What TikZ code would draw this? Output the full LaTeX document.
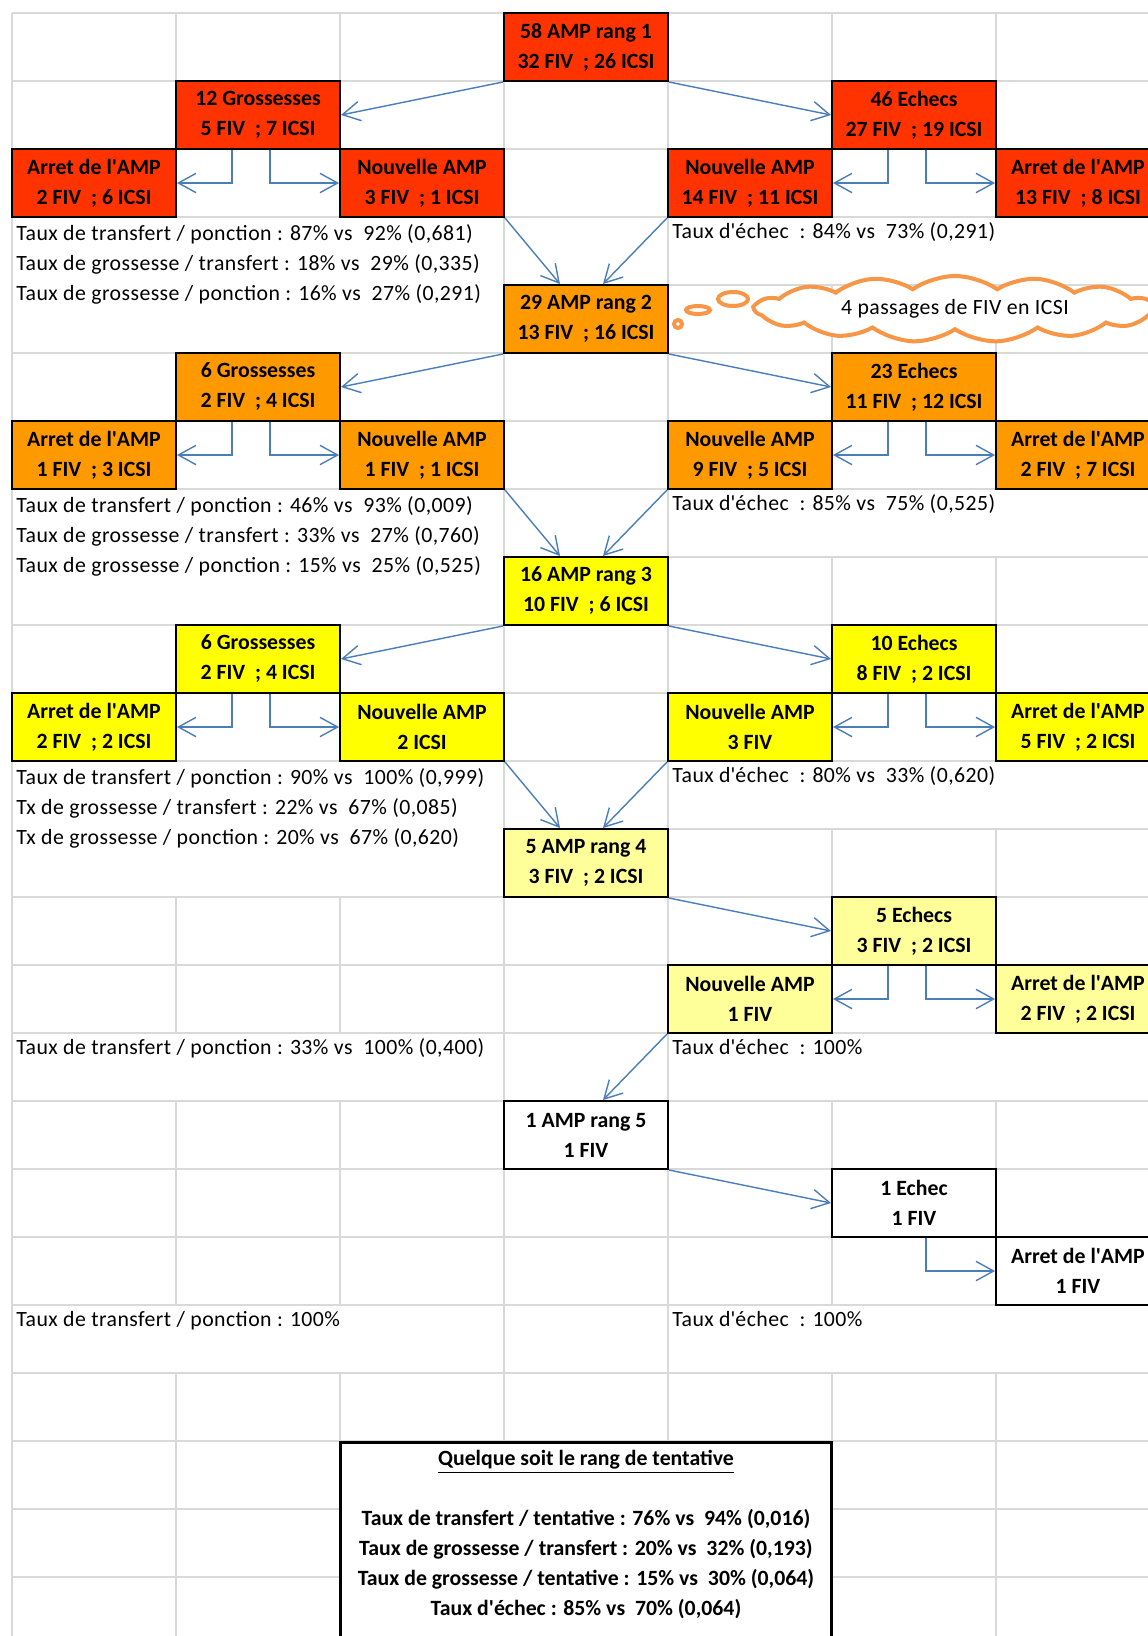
\documentclass[tikz,border=0pt]{standalone}
\usepackage{fontspec}
\setmainfont{Carlito}
\newfontfamily\tauxfont[LetterSpace=2]{Carlito}
\usetikzlibrary{arrows.meta}
\usetikzlibrary{calc}
\usetikzlibrary{shapes.symbols}
\definecolor{rouge}{HTML}{FF3300}
\definecolor{orangeamp}{HTML}{FF9900}
\definecolor{jaune}{HTML}{FFFF00}
\definecolor{jaunepale}{HTML}{FFFF99}
\definecolor{bleu}{HTML}{4A7EBB}
\definecolor{gris}{HTML}{D9D9D9}
\definecolor{nuageor}{HTML}{F79646}
\newcommand\taille{\fontsize{12.4pt}{17.07pt}\selectfont}
\newcommand\apos{\textquotesingle}

\begin{document}
\begin{tikzpicture}[x=0.02cm,y=-0.02cm,
   grille/.style={draw=gris,line width=0.025cm},
   boite/.style={draw=black,line width=0.04cm,minimum width=3.28cm,minimum height=1.36cm,
     inner sep=0pt,align=center,font=\taille\bfseries},
   fleche/.style={draw=bleu,line width=0.8pt,-{Straight Barb[length=10pt,width=11pt]}},
   tauxg/.style={anchor=north west,inner sep=0pt,align=left,font=\taille\tauxfont},
   tauxd/.style={anchor=base west,inner sep=0pt,font=\taille\tauxfont},
   bulle/.style={draw=nuageor,line width=0.08cm,fill=white}]
\useasboundingbox (0,0) rectangle (1148,1636);
\clip (0,0) rectangle (1148,1636);
\fill[white] (0,0) rectangle (1148,1636);
\foreach \i in {0,...,7} \draw[grille] (12+164*\i,13) -- (12+164*\i,1640);
\foreach \j in {0,...,23} \draw[grille] (12,13+68*\j) -- (1160,13+68*\j);
\foreach \t in {217,489,761} \fill[white] (13,\t+1) rectangle (503,\t+135);
\foreach \t in {1033,1305} \fill[white] (13,\t+1) rectangle (503,\t+67);
\foreach \t in {217,489,761,1033,1305} \fill[white] (669,\t+1) rectangle (1160,\t+67);

\node[boite,fill=rouge] (rang1) at (586,47) {58 AMP rang 1\\32 FIV~ ; 26 ICSI};
\node[boite,fill=rouge] (gross1) at (258,115) {12 Grossesses\\5 FIV~ ; 7 ICSI};
\node[boite,fill=rouge] (echec1) at (914,115) {46 Echecs\\27 FIV~ ; 19 ICSI};
\node[boite,fill=rouge] (arretg1) at (94,183) {Arret de l\apos AMP\\2 FIV~ ; 6 ICSI};
\node[boite,fill=rouge] (nouvg1) at (422,183) {Nouvelle AMP\\3 FIV~ ; 1 ICSI};
\node[boite,fill=rouge] (nouvd1) at (750,183) {Nouvelle AMP\\14 FIV~ ; 11 ICSI};
\node[boite,fill=rouge] (arretd1) at (1078,183) {Arret de l\apos AMP\\13 FIV~ ; 8 ICSI};
\node[tauxg] (tauxg1) at (16,224) {Taux de transfert / ponction : 87\% vs~ 92\% (0,681)\\
   Taux de grossesse / transfert : 18\% vs~ 29\% (0,335)\\
   Taux de grossesse / ponction : 16\% vs~ 27\% (0,291)};
\node[tauxd] (tauxd1) at (672,238) {Taux d\apos échec~ : 84\% vs~ 73\% (0,291)};

\node[boite,fill=orangeamp] (rang2) at (586,319) {29 AMP rang 2\\13 FIV~ ; 16 ICSI};
\node[boite,fill=orangeamp] (gross2) at (258,387) {6 Grossesses\\2 FIV~ ; 4 ICSI};
\node[boite,fill=orangeamp] (echec2) at (914,387) {23 Echecs\\11 FIV~ ; 12 ICSI};
\node[boite,fill=orangeamp] (arretg2) at (94,455) {Arret de l\apos AMP\\1 FIV~ ; 3 ICSI};
\node[boite,fill=orangeamp] (nouvg2) at (422,455) {Nouvelle AMP\\1 FIV~ ; 1 ICSI};
\node[boite,fill=orangeamp] (nouvd2) at (750,455) {Nouvelle AMP\\9 FIV~ ; 5 ICSI};
\node[boite,fill=orangeamp] (arretd2) at (1078,455) {Arret de l\apos AMP\\2 FIV~ ; 7 ICSI};
\node[tauxg] (tauxg2) at (16,496) {Taux de transfert / ponction : 46\% vs~ 93\% (0,009)\\
   Taux de grossesse / transfert : 33\% vs~ 27\% (0,760)\\
   Taux de grossesse / ponction : 15\% vs~ 25\% (0,525)};
\node[tauxd] (tauxd2) at (672,510) {Taux d\apos échec~ : 85\% vs~ 75\% (0,525)};

\node[boite,fill=jaune] (rang3) at (586,591) {16 AMP rang 3\\10 FIV~ ; 6 ICSI};
\node[boite,fill=jaune] (gross3) at (258,659) {6 Grossesses\\2 FIV~ ; 4 ICSI};
\node[boite,fill=jaune] (echec3) at (914,659) {10 Echecs\\8 FIV~ ; 2 ICSI};
\node[boite,fill=jaune] (arretg3) at (94,727) {Arret de l\apos AMP\\2 FIV~ ; 2 ICSI};
\node[boite,fill=jaune] (nouvg3) at (422,727) {Nouvelle AMP\\2 ICSI};
\node[boite,fill=jaune] (nouvd3) at (750,727) {Nouvelle AMP\\3 FIV};
\node[boite,fill=jaune] (arretd3) at (1078,727) {Arret de l\apos AMP\\5 FIV~ ; 2 ICSI};
\node[tauxg] (tauxg3) at (16,768) {Taux de transfert / ponction : 90\% vs~ 100\% (0,999)\\
   Tx de grossesse / transfert : 22\% vs~ 67\% (0,085)\\
   Tx de grossesse / ponction : 20\% vs~ 67\% (0,620)};
\node[tauxd] (tauxd3) at (672,782) {Taux d\apos échec~ : 80\% vs~ 33\% (0,620)};

\node[boite,fill=jaunepale] (rang4) at (586,863) {5 AMP rang 4\\3 FIV~ ; 2 ICSI};
\node[boite,fill=jaunepale] (echec4) at (914,931) {5 Echecs\\3 FIV~ ; 2 ICSI};
\node[boite,fill=jaunepale] (nouvd4) at (750,999) {Nouvelle AMP\\1 FIV};
\node[boite,fill=jaunepale] (arretd4) at (1078,999) {Arret de l\apos AMP\\2 FIV~ ; 2 ICSI};
\node[tauxd] (tauxg4) at (16,1054) {Taux de transfert / ponction : 33\% vs~ 100\% (0,400)};
\node[tauxd] (tauxd4) at (672,1054) {Taux d\apos échec~ : 100\%};

\node[boite,fill=white] (rang5) at (586,1135) {1 AMP rang 5\\1 FIV};
\node[boite,fill=white] (echec5) at (914,1203) {1 Echec\\1 FIV};
\node[boite,fill=white] (arretd5) at (1078,1271) {Arret de l\apos AMP\\1 FIV};
\node[tauxd] (tauxg5) at (16,1326) {Taux de transfert / ponction : 100\%};
\node[tauxd] (tauxd5) at (672,1326) {Taux d\apos échec~ : 100\%};

\draw[fleche] (rang1.south west) -- (gross1.east);
\draw[fleche] (rang1.south east) -- (echec1.west);
\draw[fleche] ($(gross1.south)+(-26,0)$) |- (arretg1.east);
\draw[fleche] ($(gross1.south)+(12,0)$) |- (nouvg1.west);
\draw[fleche] ($(echec1.south)+(-26,0)$) |- (nouvd1.east);
\draw[fleche] ($(echec1.south)+(12,0)$) |- (arretd1.west);
\draw[fleche] (nouvg1.south east) -- ($(rang2.north)+(-26,0)$);
\draw[fleche] (nouvd1.south west) -- ($(rang2.north)+(17,0)$);

\draw[fleche] (rang2.south west) -- (gross2.east);
\draw[fleche] (rang2.south east) -- (echec2.west);
\draw[fleche] ($(gross2.south)+(-26,0)$) |- (arretg2.east);
\draw[fleche] ($(gross2.south)+(12,0)$) |- (nouvg2.west);
\draw[fleche] ($(echec2.south)+(-26,0)$) |- (nouvd2.east);
\draw[fleche] ($(echec2.south)+(12,0)$) |- (arretd2.west);
\draw[fleche] (nouvg2.south east) -- ($(rang3.north)+(-26,0)$);
\draw[fleche] (nouvd2.south west) -- ($(rang3.north)+(17,0)$);

\draw[fleche] (rang3.south west) -- (gross3.east);
\draw[fleche] (rang3.south east) -- (echec3.west);
\draw[fleche] ($(gross3.south)+(-26,0)$) |- (arretg3.east);
\draw[fleche] ($(gross3.south)+(12,0)$) |- (nouvg3.west);
\draw[fleche] ($(echec3.south)+(-26,0)$) |- (nouvd3.east);
\draw[fleche] ($(echec3.south)+(12,0)$) |- (arretd3.west);
\draw[fleche] (nouvg3.south east) -- ($(rang4.north)+(-26,0)$);
\draw[fleche] (nouvd3.south west) -- ($(rang4.north)+(17,0)$);

\draw[fleche] (rang4.south east) -- (echec4.west);
\draw[fleche] ($(echec4.south)+(-26,0)$) |- (nouvd4.east);
\draw[fleche] ($(echec4.south)+(12,0)$) |- (arretd4.west);
\draw[fleche] (nouvd4.south west) -- ($(rang5.north)+(17,0)$);

\draw[fleche] (rang5.south east) -- (echec5.west);
\draw[fleche] ($(echec5.south)+(12,0)$) |- (arretd5.west);

\node[cloud,cloud puffs=15,cloud puff arc=70,aspect=7,draw=nuageor,line width=0.08cm,fill=white,
   minimum width=8cm,minimum height=1cm,inner sep=0pt,font=\taille\tauxfont]
   (nuage) at (955,309) {4 passages de FIV en ICSI};
\draw[bulle] (733,299) ellipse [x radius=15,y radius=7];
\draw[bulle] (698,310) ellipse [x radius=12,y radius=4];
\draw[bulle] (678,324) circle [radius=4];

\node[draw=black,line width=0.06cm,fill=white,minimum width=9.84cm,inner ysep=0.16cm,
   text depth=4cm,align=center,font=\taille\bfseries,anchor=north] (bilan) at (586,1441)
   {\underline{Quelque soit le rang de tentative}\\[0.6cm]
    Taux de transfert / tentative : 76\% vs~ 94\% (0,016)\\
    Taux de grossesse / transfert : 20\% vs~ 32\% (0,193)\\
    Taux de grossesse / tentative : 15\% vs~ 30\% (0,064)\\
    Taux d\apos échec : 85\% vs~ 70\% (0,064)};
\end{tikzpicture}
\end{document}
